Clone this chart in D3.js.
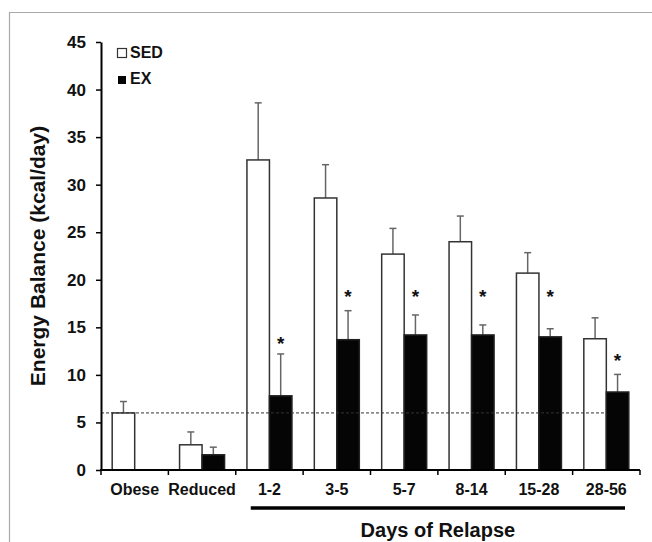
<!DOCTYPE html>
<html lang="en">
<head>
<meta charset="UTF-8">
<title>Energy Balance</title>
<script src="https://d3js.org/d3.v7.min.js"></script>
<style>
    body { margin: 0; background: #fff; }
    text { font-family: "Liberation Sans", Arial, sans-serif; font-weight: bold; fill: #111; }
</style>
</head>
<body>
<div id="chart"></div>
<script>
// data
var categories = ["Obese", "Reduced", "1-2", "3-5", "5-7", "8-14", "15-28", "28-56"];
var sedMean = [6.0, 2.65, 32.6, 28.6, 22.7, 24.0, 20.7, 13.8];
var sedErr  = [1.2, 1.35, 6.0, 3.5, 2.7, 2.7, 2.15, 2.2];
var exMean  = [null, 1.6, 7.8, 13.7, 14.2, 14.2, 14.0, 8.2];
var exErr   = [null, 0.8, 4.4, 3.05, 2.1, 1.05, 0.85, 1.85];
var starAt  = [null, null, 13.7, 18.6, 18.6, 18.6, 18.6, 11.9];
var yTicks  = [0, 5, 10, 15, 20, 25, 30, 35, 40, 45];
var obeseLine = 6;

var width = 652, height = 542;

var svg = d3.select("#chart").append("svg")
    .attr("width", width)
    .attr("height", height);

// frame of the original figure
svg.append("path")
    .attr("d", "M9.5,542V12.5H652")
    .attr("fill", "none")
    .attr("stroke", "#aaa")
    .attr("stroke-width", 1.2);

var x = d3.scaleBand().domain(categories).range([101, 640]).padding(0);
var y = d3.scaleLinear().domain([0, 45]).range([470, 42]);
var barW = 22.5;

// bars
var groups = svg.selectAll("g.cat")
    .data(categories)
    .enter().append("g")
    .attr("class", "cat");

function errBar(g, cx, mean, err) {
    g.append("line")
        .attr("x1", cx).attr("x2", cx)
        .attr("y1", y(mean)).attr("y2", y(mean + err))
        .attr("stroke", "#666").attr("stroke-width", 1.5);
    g.append("line")
        .attr("x1", cx - 3.5).attr("x2", cx + 3.5)
        .attr("y1", y(mean + err)).attr("y2", y(mean + err))
        .attr("stroke", "#666").attr("stroke-width", 1.5);
}

groups.each(function(c, i) {
    var g = d3.select(this);
    var mid = x(c) + x.bandwidth() / 2;
    errBar(g, mid - barW / 2, sedMean[i], sedErr[i]);
    g.append("rect")
        .attr("x", mid - barW)
        .attr("y", y(sedMean[i]))
        .attr("width", barW)
        .attr("height", y(0) - y(sedMean[i]))
        .attr("fill", "#fff")
        .attr("stroke", "#333")
        .attr("stroke-width", 1.5);
    if (exMean[i] != null) {
        errBar(g, mid + barW / 2, exMean[i], exErr[i]);
        g.append("rect")
            .attr("x", mid)
            .attr("y", y(exMean[i]))
            .attr("width", barW)
            .attr("height", y(0) - y(exMean[i]))
            .attr("fill", "#050505")
            .attr("stroke", "#222")
            .attr("stroke-width", 1.5);
    }
    if (starAt[i] != null) {
        g.append("text")
            .attr("x", mid + barW / 2)
            .attr("y", y(starAt[i]) + 10)
            .attr("text-anchor", "middle")
            .style("font-size", "19px")
            .text("*");
    }
});

// dashed reference line at the obese level
var lastCat = categories[categories.length - 1];
svg.append("line")
    .attr("x1", x.range()[0])
    .attr("x2", x(lastCat) + x.bandwidth() / 2)
    .attr("y1", y(obeseLine)).attr("y2", y(obeseLine))
    .attr("stroke", "#333")
    .attr("stroke-width", 1)
    .attr("stroke-dasharray", "3,2");

// y axis
var yAxis = svg.append("g")
    .attr("transform", "translate(101,0)")
    .call(d3.axisLeft(y).tickValues(yTicks).tickSize(5).tickSizeOuter(0).tickPadding(10));
yAxis.select(".domain").attr("stroke", "#000").attr("stroke-width", 2);
yAxis.selectAll(".tick line").attr("stroke", "#000").attr("stroke-width", 1.5);
yAxis.selectAll(".tick text")
    .style("font-size", "17px")
    .style("font-family", "'Liberation Sans', Arial, sans-serif")
    .style("font-weight", "bold")
    .attr("fill", "#111");

// x axis: line with ticks at band edges
var edges = categories.map(function(c) { return x(c); }).concat([x.range()[1]]);
svg.append("line")
    .attr("x1", x.range()[0] - 1).attr("x2", x.range()[1])
    .attr("y1", y(0)).attr("y2", y(0))
    .attr("stroke", "#000").attr("stroke-width", 2);
svg.selectAll("line.xtick")
    .data(edges)
    .enter().append("line")
    .attr("class", "xtick")
    .attr("x1", function(d) { return d; })
    .attr("x2", function(d) { return d; })
    .attr("y1", y(0)).attr("y2", y(0) + 5)
    .attr("stroke", "#000").attr("stroke-width", 1.5);

svg.selectAll("text.xlab")
    .data(categories)
    .enter().append("text")
    .attr("class", "xlab")
    .attr("x", function(d) { return x(d) + x.bandwidth() / 2; })
    .attr("y", 495)
    .attr("text-anchor", "middle")
    .style("font-size", "16px")
    .text(function(d) { return d; });

// bracket under the relapse days
svg.append("line")
    .attr("x1", x("1-2") + 15)
    .attr("x2", x.range()[1] - 15)
    .attr("y1", 508).attr("y2", 508)
    .attr("stroke", "#000").attr("stroke-width", 3.5);

svg.append("text")
    .attr("x", (x("1-2") + x.range()[1]) / 2)
    .attr("y", 537)
    .attr("text-anchor", "middle")
    .style("font-size", "20px")
    .text("Days of Relapse");

// y title
svg.append("text")
    .attr("transform", "translate(45," + (y(0) + y(45)) / 2 + ") rotate(-90)")
    .attr("text-anchor", "middle")
    .style("font-size", "21px")
    .text("Energy Balance (kcal/day)");

// legend
var legend = svg.append("g").attr("transform", "translate(117,48)");
legend.append("rect")
    .attr("x", 0.5).attr("y", 0.5)
    .attr("width", 9).attr("height", 9)
    .attr("fill", "#fff").attr("stroke", "#333").attr("stroke-width", 1.2);
legend.append("text").attr("x", 13).attr("y", 10).style("font-size", "16px").text("SED");
legend.append("rect")
    .attr("x", 1).attr("y", 28)
    .attr("width", 8).attr("height", 8)
    .attr("fill", "#050505");
legend.append("text").attr("x", 13).attr("y", 36).style("font-size", "16px").text("EX");
</script>
</body>
</html>
